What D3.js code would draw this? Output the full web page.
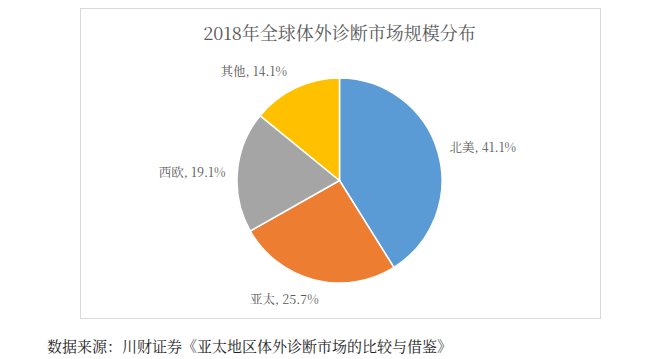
<!DOCTYPE html>
<html>
<head>
<meta charset="utf-8">
<script src="https://cdn.jsdelivr.net/npm/d3@7"></script>
<style>
  html, body { margin: 0; padding: 0; background: #fff; }
  svg { display: block; }
</style>
</head>
<body>
<svg id="chart" width="650" height="359"></svg>
<script>
// ---- data ----
const categories = ["北美", "亚太", "西欧", "其他"];
const values = [41.1, 25.7, 19.1, 14.1];
const colors = ["#5B9BD5", "#ED7D31", "#A5A5A5", "#FFC000"];
const title = "2018年全球体外诊断市场规模分布";
const source = "数据来源：川财证券《亚太地区体外诊断市场的比较与借鉴》";

// ---- layout ----
const W = 650, H = 359;
const frame = { x: 80.5, y: 8.5, w: 520, h: 310 };
const cx = 339.5, cy = 180.5, R = 102.5;
const labelNudge = { "北美": [7, -1], "亚太": [-20, 5], "西欧": [-6, 1], "其他": [-25, -3] };
const serif = '"Noto Serif CJK SC", "Liberation Serif", "DejaVu Serif", "Noto Sans CJK SC", serif';

const svg = d3.select("#chart");

svg.append("rect")
  .attr("x", frame.x).attr("y", frame.y)
  .attr("width", frame.w).attr("height", frame.h)
  .attr("fill", "#fff").attr("stroke", "#d9d9d9").attr("stroke-width", 1);

svg.append("text")
  .attr("x", cx).attr("y", 32)
  .attr("text-anchor", "middle").attr("dominant-baseline", "central")
  .attr("font-family", serif).attr("font-size", 18)
  .attr("fill", "#595959")
  .text(title);

const data = categories.map((c, i) => ({ name: c, value: values[i], color: colors[i] }));

const pie = d3.pie().value(d => d.value).sort(null);
const arc = d3.arc().innerRadius(0).outerRadius(R);
const arcs = pie(data);

const g = svg.append("g").attr("transform", `translate(${cx},${cy})`);

g.selectAll("path.slice")
  .data(arcs)
  .join("path")
  .attr("class", "slice")
  .attr("d", arc)
  .attr("fill", d => d.data.color)
  .attr("stroke", "#fff")
  .attr("stroke-width", 1.5)
  .attr("stroke-linejoin", "round");

const labels = g.selectAll("text.lbl")
  .data(arcs)
  .join("text")
  .attr("class", "lbl")
  .attr("font-family", serif)
  .attr("font-size", 12.5)
  .attr("fill", "#595959")
  .attr("text-anchor", "middle")
  .attr("dominant-baseline", "central")
  .text(d => `${d.data.name}, ${d3.format(".1f")(d.data.value)}%`);

labels.each(function(d) {
  const bb = this.getBBox();
  const a = (d.startAngle + d.endAngle) / 2;
  const s = Math.sin(a), c = Math.cos(a);
  const r = R + 6;
  const nud = labelNudge[d.data.name] || [0, 0];
  const x = r * s + (bb.width / 2) * s + nud[0];
  const y = -r * c - (bb.height / 2) * c + nud[1];
  d3.select(this).attr("x", x).attr("y", y);
});

svg.append("text")
  .attr("x", 47).attr("y", 345)
  .attr("dominant-baseline", "central")
  .attr("font-family", serif).attr("font-size", 15)
  .attr("fill", "#222")
  .text(source);
</script>
</body>
</html>
